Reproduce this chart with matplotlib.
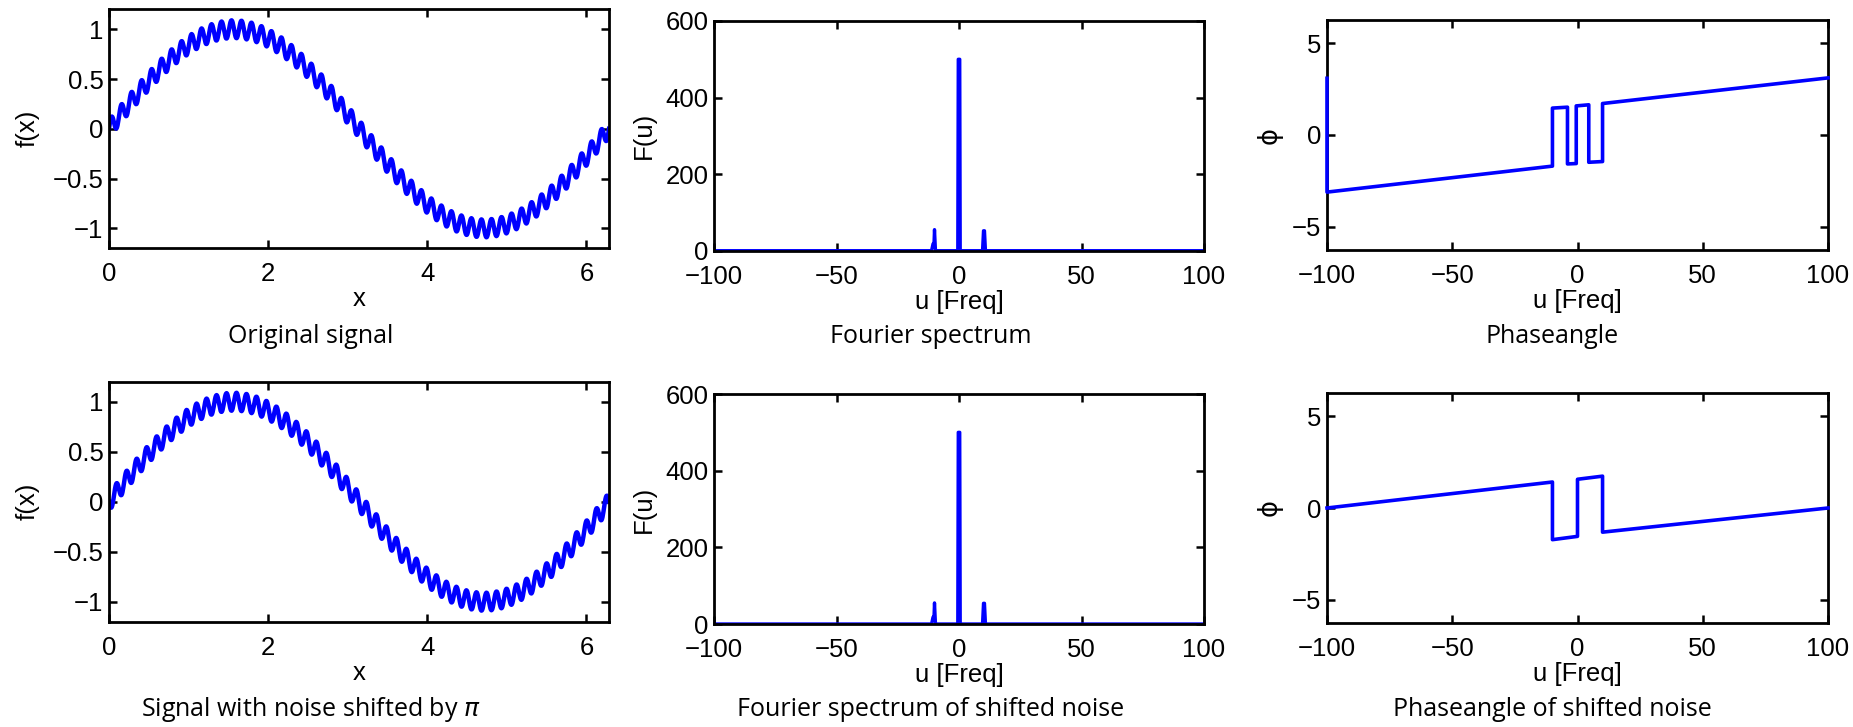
import numpy as np
import matplotlib
matplotlib.use("Agg")
import matplotlib.pyplot as plt

W, H = 1853, 727
BLUE = "#0000ff"

plt.rcParams["font.family"] = ["Liberation Sans", "DejaVu Sans"]

# signal: slow sine plus fast ripple
n_samples = 1000
base_amp = 1.0
ripple_amp = 0.09
ripple_cycles = 50
ripple_phase = [0.0, np.pi]          # original / noise shifted by pi

# magnitude spectrum |F(u)|
spec_u = [-100, -11.2, -10.6, -10.2, -10.0, -9.6, -0.5, -0.3, 0.3, 0.5,
          9.6, 10.0, 10.4, 10.8, 100]
spec_top = [0, 0, 18, 20, 55, 0, 0, 500, 500, 0, 0, 52, 52, 0, 0]
spec_bot = [0, 0, 18, 20, 55, 0, 0, 500, 500, 0, 0, 54, 54, 0, 0]

# phase angle
phase_u_top = [-100, -100, -10, -10, -4, -4, -0.5, -0.5, 4.5, 4.5, 10, 10, 100]
phase_top = [3.1, -3.12, -1.70, 1.47, 1.52, -1.58, -1.56, 1.59, 1.65,
             -1.49, -1.45, 1.72, 3.12]
phase_u_bot = [-100, -10, -10, 0, 0, 10, 10, 100]
phase_bot = [0.0, 1.42, -1.73, -1.55, 1.57, 1.74, -1.32, 0.0]

captions = [["Original signal", "Fourier spectrum", "Phaseangle"],
            ["Signal with noise shifted by $\\pi$",
             "Fourier spectrum of shifted noise",
             "Phaseangle of shifted noise"]]

fig = plt.figure(figsize=(W / 100, H / 100), dpi=100)


def px_axes(l, t, r, b):
    return fig.add_axes([l / W, 1 - b / H, (r - l) / W, (b - t) / H])


def matlab_style(ax, ylab, ylab_dx, xlab, xlab_dy, hpx, wpx):
    ax.tick_params(direction="in", top=True, right=True, length=6, width=1.8,
                   labelsize=18.5)
    ax.tick_params(axis="x", pad=10)
    ax.tick_params(axis="y", pad=4)
    for sp in ax.spines.values():
        sp.set_linewidth(2.0)
    ax.set_xlabel(xlab, fontsize=18.5)
    ax.xaxis.set_label_coords(0.5, -xlab_dy / hpx)
    ax.xaxis.label.set_verticalalignment("center")
    ax.set_ylabel(ylab, fontsize=18.5)
    ax.yaxis.set_label_coords(-ylab_dx / wpx, 0.5)
    ax.yaxis.label.set_verticalalignment("center")


rows = [(9.3, 248.3, 21, 250.7, 20, 250), (381.7, 621.7, 394, 624, 393, 623)]
cap_y = [337, 710]
cols = [(109, 609), (714, 1204), (1327, 1828)]
cap_x = [311, 931, 1552]

x = np.linspace(0, 2 * np.pi, n_samples)
specs = [spec_top, spec_bot]
phases = [(phase_u_top, phase_top), (phase_u_bot, phase_bot)]

for r, (t1, b1, t2, b2, t3, b3) in enumerate(rows):
    # signal
    ax = px_axes(cols[0][0], t1, cols[0][1], b1)
    f = base_amp * np.sin(x) + ripple_amp * np.sin(ripple_cycles * x + ripple_phase[r])
    ax.plot(x, f, color=BLUE, lw=3.2)
    ax.set_xlim(0, 2 * np.pi)
    ax.set_ylim(-1.2, 1.2)
    ax.set_xticks([0, 2, 4, 6])
    ax.set_yticks([-1, -0.5, 0, 0.5, 1])
    ax.set_yticklabels(["\u22121", "\u22120.5", "0", "0.5", "1"])
    matlab_style(ax, "f(x)", 81, "x", 51, b1 - t1, cols[0][1] - cols[0][0])

    # spectrum
    ax = px_axes(cols[1][0], t2, cols[1][1], b2)
    ax.plot(spec_u, specs[r], color=BLUE, lw=2.4)
    ax.set_xlim(-100, 100)
    ax.set_ylim(0, 600)
    ax.set_xticks([-100, -50, 0, 50, 100])
    ax.set_yticks([0, 200, 400, 600])
    matlab_style(ax, "F(u)", 70, "u [Freq]", 51, b2 - t2, cols[1][1] - cols[1][0])

    # phase
    ax = px_axes(cols[2][0], t3, cols[2][1], b3)
    pu, pv = phases[r]
    ax.plot(pu, pv, color=BLUE, lw=2.6, clip_on=False, zorder=3)
    ax.set_xlim(-100, 100)
    ax.set_ylim(-2 * np.pi, 2 * np.pi)
    ax.set_xticks([-100, -50, 0, 50, 100])
    ax.set_yticks([-5, 0, 5])
    matlab_style(ax, "\u03d5", 57, "u [Freq]", 51, b3 - t3, cols[2][1] - cols[2][0])
    ax.yaxis.label.set_family(["DejaVu Sans"])

    for c in range(3):
        fig.text(cap_x[c] / W, 1 - cap_y[r] / H, captions[r][c], ha="center",
                 va="center", fontsize=18, family=["Open Sans", "DejaVu Sans"])

fig.savefig("out.png", dpi=100)
